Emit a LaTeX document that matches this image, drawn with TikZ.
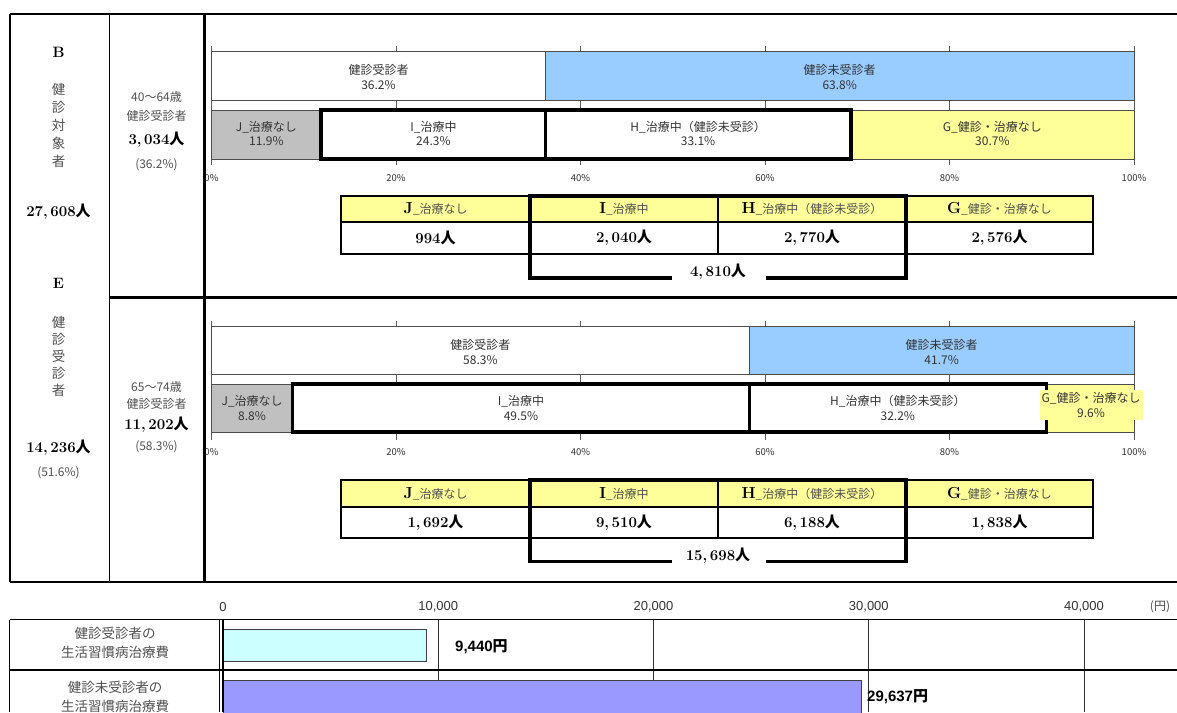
\documentclass[tikz,border=0pt]{standalone}
\usepackage{fontspec}
\newfontfamily\jp{Noto Sans CJK JP}
\newfontfamily\ls{Liberation Sans}
\newcommand\hito{{\jp\bfseries 人}}
\newcommand\yenb{{\jp\bfseries 円}}
\newcommand\hl[1]{{\rmfamily\bfseries\fontsize{16}{16}\selectfont\color{black}#1}}
\definecolor{barblue}{RGB}{153,204,255}
\definecolor{bargray}{RGB}{192,192,192}
\definecolor{baryel}{RGB}{255,255,153}
\definecolor{barcyan}{RGB}{204,255,255}
\definecolor{barviolet}{RGB}{153,153,255}
\definecolor{txt}{RGB}{51,51,51}
\definecolor{txtm}{RGB}{80,80,80}
\tikzset{
  lbl/.style={font=\jp\fontsize{12}{14.5}\selectfont, text=txt, align=center, inner sep=1pt},
  tick/.style={font=\jp\fontsize{9.5}{11}\selectfont, text=txt, inner sep=0pt},
  gridl/.style={draw=black!65, line width=0.9pt},
  seg/.style={draw=black!70, line width=0.9pt},
  thickbox/.style={draw=black, line width=3.6pt, line join=miter},
  cell/.style 2 args={minimum width=#1, minimum height=#2},
  hcell/.style={draw=black, line width=1.2pt, fill=baryel, inner sep=0pt, font=\jp\fontsize{12}{14}\selectfont, text=txtm},
  vcell/.style={draw=black, line width=1.2pt, fill=white, inner sep=0pt, font=\bfseries\fontsize{15}{17}\selectfont},
  big/.style={font=\bfseries\fontsize{15}{17}\selectfont, inner sep=0pt},
  mtext/.style={font=\jp\fontsize{12}{14}\selectfont, text=txtm, align=center, inner sep=0pt},
  vtext/.style={font=\jp\fontsize{13.5}{18}\selectfont, text=txtm, align=center, inner sep=0pt},
  axl/.style={font=\ls\fontsize{13}{15}\selectfont, text=txt, inner sep=0pt},
  rowl/.style={font=\jp\fontsize{13.5}{19}\selectfont, text=txtm, align=center, inner sep=0pt},
  costv/.style={font=\ls\bfseries\fontsize{15}{17}\selectfont, inner sep=0pt, anchor=west},
  framel/.style={draw=black, line width=1.8pt},
}
\begin{document}
\begin{tikzpicture}[x=1pt,y=-1pt]
\useasboundingbox (0,0) rectangle (1177,712);
\fill[white] (0,0) rectangle (1177,712);

% ---------- column 1 ----------
\node[big] (cB) at (58.5,52.5) {B};
\node[vtext] (cBv) at (58.5,125) {健\\診\\対\\象\\者};
\node[big] (cBn) at (58.5,212) {27,\,608\hito};
\node[big] (cE) at (58.5,283) {E};
\node[vtext, font=\jp\fontsize{13.5}{17}\selectfont] (cEv) at (58.5,356) {健\\診\\受\\診\\者};
\node[big] (cEn) at (58.5,448) {14,\,236\hito};
\node[mtext] (cEp) at (58.5,472.5) {(51.6\%)};

% ---------- column 2 ----------
\node[mtext] (dA1) at (156.5,97) {40〜64歳};
\node[mtext] (dA2) at (156.5,116) {健診受診者};
\node[big] (dA3) at (156.5,140) {3,\,034\hito};
\node[mtext] (dA4) at (156.5,165) {(36.2\%)};
\node[mtext] (dB1) at (156.5,386.5) {65〜74歳};
\node[mtext] (dB2) at (156.5,404) {健診受診者};
\node[big] (dB3) at (156.5,425) {11,\,202\hito};
\node[mtext] (dB4) at (156.5,447) {(58.3\%)};

% ---------- top chart ----------
\foreach \p in {0,20,...,100} \draw[gridl] ({211.5+9.225*\p},46) -- ({211.5+9.225*\p},165);
\filldraw[seg, fill=white] (211.5,51) rectangle (545.45,100);
\filldraw[seg, fill=barblue] (545.45,51) rectangle (1134,100);
\filldraw[seg, fill=bargray] (211.5,110) rectangle (321.28,159);
\filldraw[seg, fill=white] (321.28,110) rectangle (545.45,159);
\filldraw[seg, fill=white] (545.45,110) rectangle (850.8,159);
\filldraw[seg, fill=baryel] (850.8,110) rectangle (1134,159);
\draw[thickbox] (321.28,110) rectangle (850.8,159);
\draw[thickbox] (545.45,110) -- (545.45,159);
\node[lbl] (a1) at (378.5,77) {健診受診者\\36.2\%};
\node[lbl] (a2) at (839.7,77) {健診未受診者\\63.8\%};
\node[lbl] (a3) at (266.4,133.5) {J\_治療なし\\11.9\%};
\node[lbl] (a4) at (433.4,133.5) {I\_治療中\\24.3\%};
\node[lbl] (a5) at (698.1,133.5) {H\_治療中（健診未受診）\\33.1\%};
\node[lbl] (a6) at (992.4,133.5) {G\_健診・治療なし\\30.7\%};
\foreach \p in {0,20,...,100} \node[tick] (ta\p) at ({211.5+9.225*\p},178) {\p\%};

% ---------- top table ----------
\node[hcell, cell={189pt}{26pt}] (tJh) at (435.5,209) {\hl{J}\_治療なし};
\node[hcell, cell={188pt}{26pt}] (tIh) at (624,209) {\hl{I}\_治療中};
\node[hcell, cell={188pt}{26pt}] (tHh) at (812,209) {\hl{H}\_治療中（健診未受診）};
\node[hcell, cell={187pt}{26pt}] (tGh) at (999.5,209) {\hl{G}\_健診・治療なし};
\node[vcell, cell={189pt}{32pt}] (tJv) at (435.5,238) {994\hito};
\node[vcell, cell={188pt}{32pt}] (tIv) at (624,238) {2,\,040\hito};
\node[vcell, cell={188pt}{32pt}] (tHv) at (812,238) {2,\,770\hito};
\node[vcell, cell={187pt}{32pt}] (tGv) at (999.5,238) {2,\,576\hito};
\node[big] (tsum) at (718,272) {4,\,810\hito};
\coordinate (tsl) at (672,278);
\coordinate (tsr) at (766,278);
\draw[thickbox] (tsl) -- (530,278) -- (530,196) -- (906,196) -- (906,278) -- (tsr);

% ---------- bottom chart ----------
\foreach \p in {0,20,...,100} \draw[gridl] ({211.5+9.225*\p},321) -- ({211.5+9.225*\p},440);
\filldraw[seg, fill=white] (211.5,326) rectangle (749.3,374);
\filldraw[seg, fill=barblue] (749.3,326) rectangle (1134,374);
\filldraw[seg, fill=bargray] (211.5,384) rectangle (292.68,432);
\filldraw[seg, fill=white] (292.68,384) rectangle (749.3,432);
\filldraw[seg, fill=white] (749.3,384) rectangle (1046.3,432);
\filldraw[seg, fill=baryel] (1046.3,384) rectangle (1134,432);
\draw[thickbox] (292.68,384) rectangle (1046.3,432);
\draw[thickbox] (749.3,384) -- (749.3,432);
\node[lbl] (b1) at (480.4,352) {健診受診者\\58.3\%};
\node[lbl] (b2) at (941.65,352) {健診未受診者\\41.7\%};
\node[lbl] (b3) at (252.1,408) {J\_治療なし\\8.8\%};
\node[lbl] (b4) at (521,408) {I\_治療中\\49.5\%};
\node[lbl] (b5) at (897.8,408) {H\_治療中（健診未受診）\\32.2\%};
\node[lbl, fill=baryel, inner xsep=2pt, inner ysep=3pt] (b6) at (1091,405) {G\_健診・治療なし\\9.6\%};
\foreach \p in {0,20,...,100} \node[tick] (tb\p) at ({211.5+9.225*\p},452) {\p\%};

% ---------- bottom table ----------
\node[hcell, cell={189pt}{27pt}] (uJh) at (435.5,493.5) {\hl{J}\_治療なし};
\node[hcell, cell={188pt}{27pt}] (uIh) at (624,493.5) {\hl{I}\_治療中};
\node[hcell, cell={188pt}{27pt}] (uHh) at (812,493.5) {\hl{H}\_治療中（健診未受診）};
\node[hcell, cell={187pt}{27pt}] (uGh) at (999.5,493.5) {\hl{G}\_健診・治療なし};
\node[vcell, cell={189pt}{31pt}] (uJv) at (435.5,522.5) {1,\,692\hito};
\node[vcell, cell={188pt}{31pt}] (uIv) at (624,522.5) {9,\,510\hito};
\node[vcell, cell={188pt}{31pt}] (uHv) at (812,522.5) {6,\,188\hito};
\node[vcell, cell={187pt}{31pt}] (uGv) at (999.5,522.5) {1,\,838\hito};
\node[big] (usum) at (718,556) {15,\,698\hito};
\coordinate (usl) at (672,561.5);
\coordinate (usr) at (766,561.5);
\draw[thickbox] (usl) -- (530,561.5) -- (530,480) -- (906,480) -- (906,561.5) -- (usr);

% ---------- frame ----------
\draw[framel] (10,14) -- (1177,14);
\draw[framel] (10,14) -- (10,582);
\draw[framel] (10,582) -- (1177,582);
\draw[line width=1pt] (109.5,14) -- (109.5,582);
\draw[line width=3pt] (204.5,14) -- (204.5,582);
\draw[line width=2.4pt] (109.5,297.5) -- (1177,297.5);

% ---------- cost chart ----------
\foreach \v in {1,2,3,4} \draw[line width=1pt, draw=black!80] ({223+215.25*\v},619.5) -- ({223+215.25*\v},712);
\filldraw[draw=black!75, line width=1pt, fill=barcyan] (223,629.5) rectangle (426,661);
\filldraw[draw=black!75, line width=1pt, fill=barviolet] (223,680.5) rectangle (861,716);
\draw[line width=1.8pt] (9.5,619.5) -- (1177,619.5);
\draw[line width=2.6pt] (9.5,670) -- (1177,670);
\draw[line width=1.8pt] (9.5,619.5) -- (9.5,712);
\draw[line width=1.3pt] (219.3,619.5) -- (219.3,712);
\draw[line width=1.1pt] (223,619.5) -- (223,712);
\node[axl] (x0) at (223,607) {0};
\node[axl] (x1) at (438.3,607) {10,000};
\node[axl] (x2) at (653.5,607) {20,000};
\node[axl] (x3) at (868.8,607) {30,000};
\node[axl] (x4) at (1084,607) {40,000};
\node[axl, font=\jp\fontsize{12}{14}\selectfont, text=txtm] (xu) at (1160,607) {(円)};
\node[rowl] (r1) at (115,643) {健診受診者の\\生活習慣病治療費};
\node[rowl] (r2) at (115,696.5) {健診未受診者の\\生活習慣病治療費};
\node[costv] (c1) at (455,646.5) {9,440\yenb};
\node[costv] (c2) at (867,697) {29,637\yenb};
\end{tikzpicture}
\end{document}
